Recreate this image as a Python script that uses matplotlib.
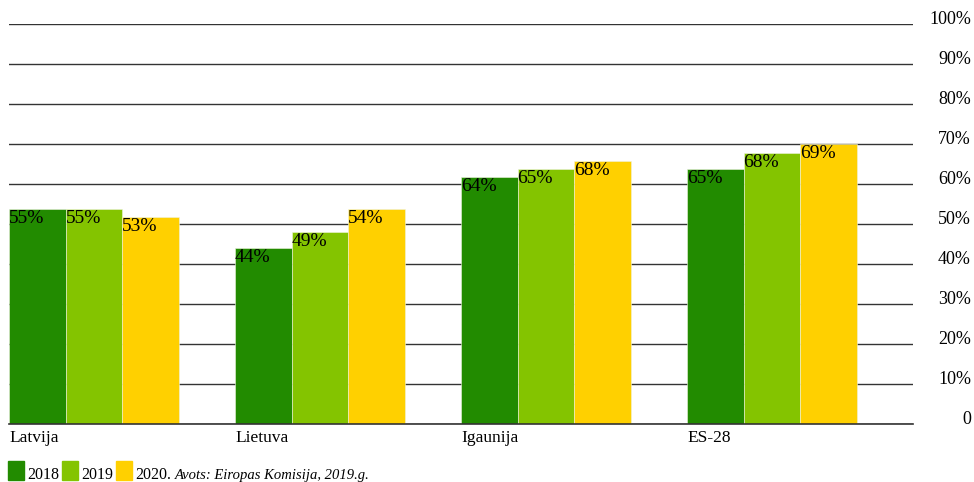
import numpy as np
import matplotlib
matplotlib.use('Agg')
import matplotlib.pyplot as plt
from matplotlib.patches import Rectangle

# data
countries = ['Latvija', 'Lietuva', 'Igaunija', 'ES-28']
years = ['2018', '2019', '2020']
h2018 = [53.8, 43.9, 61.8, 63.8]
h2019 = [53.8, 47.9, 63.8, 67.8]
h2020 = [51.8, 53.8, 65.8, 69.9]
lab2018 = ['55%', '44%', '64%', '65%']
lab2019 = ['55%', '49%', '65%', '68%']
lab2020 = ['53%', '54%', '68%', '69%']
colors = ['#228B00', '#84C400', '#FFD000']
yticks = [0, 10, 20, 30, 40, 50, 60, 70, 80, 90, 100]
ytick_labels = ['0'] + ['{}%'.format(v) for v in yticks[1:]]
source = 'Avots: Eiropas Komisija, 2019.g.'

W, H = 974, 482
plt.rcParams['font.family'] = ['Liberation Serif', 'DejaVu Serif']
fig = plt.figure(figsize=(W / 100, H / 100), dpi=100)
ax = fig.add_axes([9 / W, (H - 424) / H, 904 / W, 400 / H])

x = np.arange(len(countries))
bw = 0.25
heights = [h2018, h2019, h2020]
labels = [lab2018, lab2019, lab2020]
for k in range(3):
    xs = x + (k - 1) * bw
    ax.bar(xs, heights[k], width=bw, color=colors[k], edgecolor='#eef3e0',
           linewidth=0.4, zorder=2)
    for xi, hi, lb in zip(xs, heights[k], labels[k]):
        ax.text(xi - bw / 2, hi - 0.2, lb, ha='left', va='top', fontsize=14, zorder=3)

for i, c in enumerate(countries):
    ax.text(x[i] - 1.5 * bw, -1.6, c, ha='left', va='top', fontsize=12.5)

ax.set_xlim(-1.5 * bw, len(countries) - 1.5 * bw)
ax.set_ylim(0, 100)
ax.set_xticks([])
ax.set_yticks(yticks)
ax.tick_params(axis='y', length=0, labelleft=False)
# right side value axis labels, right aligned and a little above the grid lines
ytrans = ax.get_yaxis_transform()
for v, lb in zip(yticks, ytick_labels):
    ax.text(1 + 58 / 904, v + 1.0, lb, transform=ytrans, ha='right', va='center',
            fontsize=13, clip_on=False)
ax.grid(axis='y', color='#333333', linewidth=1.0, zorder=1)
ax.set_axisbelow(True)
for s in ['top', 'left', 'right']:
    ax.spines[s].set_visible(False)
ax.spines['bottom'].set_color('#333333')
ax.spines['bottom'].set_linewidth(1.2)

# legend line at the bottom
fig.canvas.draw()
r = fig.canvas.get_renderer()
px = 8
base = (H - 479) / H
for k in range(3):
    fig.add_artist(Rectangle((px / W, (H - 480) / H), 16 / W, 19 / H,
                             transform=fig.transFigure, color=colors[k]))
    s = years[k] + ('.' if k == 2 else '')
    t = fig.text((px + 19) / W, base, s, fontsize=11.5, va='baseline')
    px = t.get_window_extent(r).x1 + 3
t = fig.text((px + 1) / W, base, source, fontsize=10.5, va='baseline', style='italic')

fig.savefig('out.png', dpi=100)
